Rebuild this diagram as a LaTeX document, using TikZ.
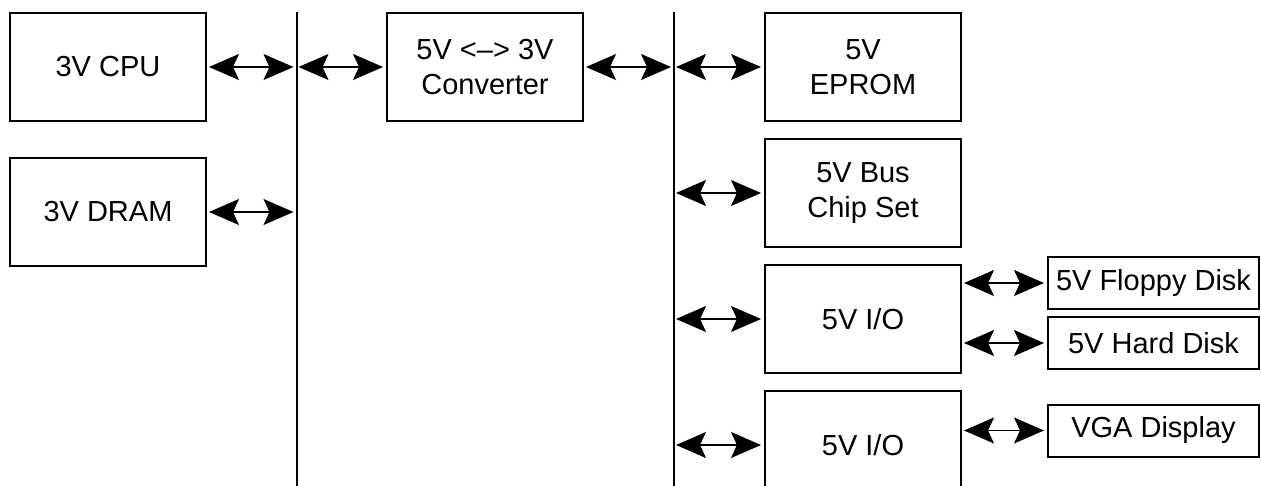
\documentclass[tikz,border=0pt]{standalone}
\usepackage{fontspec}
\setmainfont{Liberation Sans}
\usetikzlibrary{arrows.meta,calc,positioning}

\begin{document}
\begin{tikzpicture}[x=1pt,y=-1pt,node distance=16pt,font=\fontsize{29}{35}\selectfont,
      blk/.style={draw,line width=2pt,minimum width=196pt,minimum height=108pt,align=center,inner sep=0pt},
      dev/.style={draw,line width=2pt,minimum width=211pt,minimum height=52pt,inner sep=0pt},
      bus/.style={line width=2pt},
      a/.style={{Stealth[length=30pt,width=26pt,inset=6pt]}-{Stealth[length=30pt,width=26pt,inset=6pt]},line width=1.3pt,shorten <=2pt,shorten >=3pt}]
      \clip (0,0) rectangle (1261,486);
      \node[blk] (cpu) at (108,67) {3V CPU};
      \node[blk,below=35pt of cpu] (dram) {3V DRAM};
      \node[blk,right=179pt of cpu] (conv) {5V <--> 3V\\Converter};
      \node[blk,right=180pt of conv] (eprom) {5V\\EPROM};
      \node[blk,below=of eprom] (chip) {5V Bus\\Chip Set};
      \node[blk,below=of chip] (io1) {5V I/O};
      \node[blk,below=of io1] (io2) {5V I/O};
      \node[dev] (floppy) at (1153.5,283) {5V Floppy Disk};
      \node[dev] (hard) at (1153.5,343) {5V Hard Disk};
      \node[dev] (vga) at (1153.5,430.5) {VGA Display};
      % the two buses
      \coordinate (bus1) at ($(cpu.east)!.5!(conv.west)$);
      \coordinate (bus2) at ($(conv.east)!.5!(eprom.west)$);
      \coordinate (bottom) at (0,486);
      \draw[bus] (bus1 |- cpu.north) -- (bus1 |- bottom);
      \draw[bus] (bus2 |- cpu.north) -- (bus2 |- bottom);
      \draw[a] (cpu) -- (cpu -| bus1); \draw[a] (dram) -- (dram -| bus1); \draw[a] (conv -| bus1) -- (conv);
      \draw[a] (conv) -- (conv -| bus2);
      \draw[a] (eprom -| bus2) -- (eprom); \draw[a] (chip -| bus2) -- (chip);
      \draw[a] (io1 -| bus2) -- (io1); \draw[a] (io2 -| bus2) -- (io2);
      \draw[a] (floppy -| io1.east) -- (floppy); \draw[a] (hard -| io1.east) -- (hard);
      \draw[a] (vga -| io2.east) -- (vga);
    \end{tikzpicture}
\end{document}
